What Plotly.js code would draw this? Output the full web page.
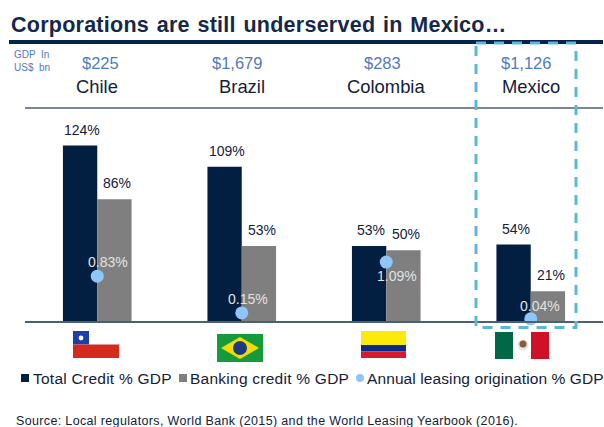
<!DOCTYPE html>
<html><head><meta charset="utf-8">
<script src="https://cdn.plot.ly/plotly-3.0.1.min.js"></script>
<style>html,body{margin:0;padding:0;background:#fff;overflow:hidden}#c{width:604px;height:427px}
text.annotation-text[data-unformatted*="Corporations"]{letter-spacing:.25px;word-spacing:1.5px}
text.annotation-text[data-unformatted^="Total"],text.annotation-text[data-unformatted^="Banking"]{letter-spacing:.25px}
text.annotation-text[data-unformatted^="Annual"]{letter-spacing:.1px}
text.annotation-text[data-unformatted^="Source"]{letter-spacing:.35px}
</style>
</head><body><div id="c"></div>
<script>
var countries = ['Chile','Brazil','Colombia','Mexico'];
var gdp = ['$225','$1,679','$283','$1,126'];
var totalCredit = [124,109,53,54];
var bankingCredit = [86,53,50,21];
var leasing = [0.83,0.15,1.09,0.04];
var leasingXShift = [11,6,11,9];
var leasingYShift = [14,14,-14,13];
var W=604,H=427,L=25,R=603,T=108,B=321;
function px(x){return (x-L)/(R-L);}
function py(y){return (B-y)/(B-T);}
var font='"Liberation Sans", Arial, sans-serif';
var navy='#021e41',gray='#7f7f7f',light='#8fc6f8',teal='#5cb8d6',textc='#14203a',blue='#4f7cbd';
var traces=[
 {type:'bar',x:countries,y:totalCredit,name:'Total Credit % GDP',marker:{color:navy}},
 {type:'bar',x:countries,y:bankingCredit,name:'Banking credit % GDP',marker:{color:gray}},
 {type:'scatter',mode:'markers',x:countries,y:leasing,yaxis:'y2',name:'Annual leasing origination % GDP',cliponaxis:false,
  marker:{color:light,size:13}}
];
function txt(x,y,s,size,color,anchor,bold){
 return {xref:'paper',yref:'paper',x:px(x),y:py(y),text:bold?'<b>'+s+'</b>':s,showarrow:false,xanchor:anchor||'left',yanchor:'middle',
  font:{family:font,size:size,color:color},borderpad:0};
}
var ann=[];
ann.push(txt(10,25,'Corporations are still underserved in Mexico…',21.5,'#14284a','left',true));
ann.push(txt(13,55,'GDP  In',10,blue));
ann.push(txt(13,67,'US$  bn',10,blue));
var gdpX=[100,236.5,382,526],nameX=[97,242,385.5,531];
function barLabel(c,v,dx){
 return {x:c,y:v,xref:'x',yref:'y',text:v+'%',showarrow:false,xshift:dx,yshift:16,yanchor:'middle',
  font:{family:font,size:14,color:textc}};
}
countries.forEach(function(c,i){
 ann.push(txt(gdpX[i],63,gdp[i],16.5,blue,'center'));
 ann.push(txt(nameX[i],86.5,c,18.4,textc,'center'));
 ann.push(barLabel(c,totalCredit[i],-15));
 ann.push(barLabel(c,bankingCredit[i],20));
 ann.push({x:c,y:leasing[i],yref:'y2',xref:'x',text:leasing[i].toFixed(2)+'%',showarrow:false,xshift:leasingXShift[i],yshift:leasingYShift[i],
  font:{family:font,size:14,color:'#e2e2e2'}});
});
ann.push(txt(32,378,'Total Credit % GDP',15.5,textc));
ann.push(txt(189,378,'Banking credit % GDP',15.5,textc));
ann.push(txt(366,378,'Annual leasing origination % GDP',15.5,textc));
ann.push(txt(15,421,'Source: Local regulators, World Bank (2015) and the World Leasing Yearbook (2016).',12.5,textc));
function rect(x0,y0,x1,y1,c){return {type:'rect',xref:'paper',yref:'paper',x0:px(x0),x1:px(x1),y0:py(y0),y1:py(y1),fillcolor:c,line:{width:0},layer:'above'};}
function poly(pts,c){
 var d=pts.map(function(p,i){return (i?'L':'M')+px(p[0])+','+py(p[1]);}).join(' ')+' Z';
 return {type:'path',xref:'paper',yref:'paper',path:d,fillcolor:c,line:{width:0},layer:'above'};
}
function dot(cx,cy,r,c){return {type:'circle',xref:'paper',yref:'paper',x0:px(cx-r),x1:px(cx+r),y0:py(cy-r),y1:py(cy+r),fillcolor:c,line:{width:0},layer:'above'};}
var shapes=[
 rect(9,40,603,44,'#04234d'),
 {type:'line',xref:'paper',yref:'paper',x0:0,x1:1,y0:1,y1:1,line:{color:'#4a6076',width:1.5}},
 // Chile
 rect(73,331,89,344.5,'#1c3fa8'),rect(73,344.5,119,358,'#d52b1e'),dot(81,338,2.4,'#ffffff'),
 // Brazil
 rect(217,334,263,362,'#169b3c'),poly([[221,348],[240,337],[259,348],[240,359]],'#f5dc00'),dot(240,348,7,'#1c3a80'),
 // Colombia
 rect(361,331,406,345,'#fcea0a'),rect(361,345,406,351.5,'#0a2a8a'),rect(361,351.5,406,358,'#d81a2a'),
 // Mexico
 rect(495,332,513,359,'#006847'),rect(531,332,549,359,'#ce1126'),dot(523,345,5.5,'#dfe8dc'),dot(523,344,3.5,'#8a5a3a'),
 // legend
 rect(21,374,29,382,navy),rect(179,374,187,382,gray),dot(360,378,4,light),
 // dashed highlight
 {type:'rect',xref:'paper',yref:'paper',x0:px(476),x1:px(576),y0:py(43),y1:py(327.5),line:{color:teal,width:3,dash:'10px,8px'},layer:'above',fillcolor:'rgba(0,0,0,0)'}
];
Plotly.newPlot('c',traces,{
 width:W,height:H,margin:{l:L,r:W-R,t:T,b:H-B},paper_bgcolor:'#fff',plot_bgcolor:'#fff',
 barmode:'group',bargap:0.525,bargroupgap:0,showlegend:false,
 xaxis:{type:'category',showticklabels:false,ticks:'',showline:true,linecolor:'#4a6076',linewidth:1.5,showgrid:false,zeroline:false},
 yaxis:{range:[0,150.5],visible:false,showgrid:false,zeroline:false},
 yaxis2:{range:[0,3.94],overlaying:'y',visible:false,showgrid:false,zeroline:false},
 annotations:ann,shapes:shapes
},{displayModeBar:false,staticPlot:true});
</script></body></html>
